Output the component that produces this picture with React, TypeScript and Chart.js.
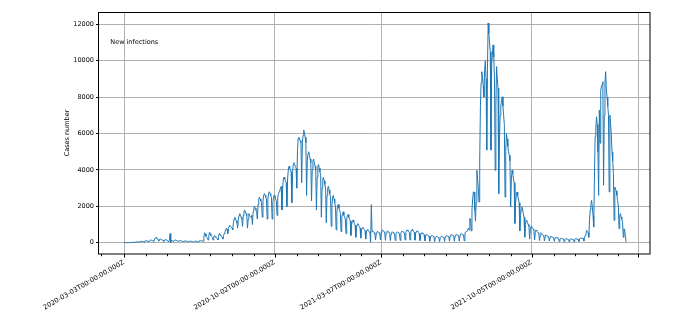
import React, { useEffect, useRef } from 'react';
import { Chart, registerables } from 'chart.js';
Chart.register(...registerables);

// Daily new infections, one row per week, starting 2020-03-03 (day index 0)
const wave2020Spring: number[][] = [
  [0, 2, 3, 5, 4, 6, 8],
  [3, 10, 15, 20, 18, 25, 22],
  [10, 30, 40, 50, 45, 40, 35],
  [20, 60, 70, 80, 75, 65, 60],
  [30, 90, 100, 110, 95, 85, 80],
  [50, 120, 150, 140, 130, 110, 100],
  [80, 200, 260, 290, 240, 200, 180],
  [90, 170, 200, 190, 160, 150, 140],
  [70, 150, 170, 160, 140, 120, 110],
  [40, 110, 500, 10, 130, 110, 100],
  [60, 130, 150, 140, 120, 110, 100],
  [50, 110, 120, 110, 100, 90, 80],
  [40, 90, 100, 95, 85, 80, 70],
  [30, 80, 90, 85, 75, 70, 65],
  [30, 70, 80, 90, 80, 75, 70],
  [40, 90, 110, 120, 100, 95, 90],
  [80, 300, 550, 480, 350, 300, 250],
  [150, 350, 580, 500, 400, 350, 300],
  [150, 300, 400, 350, 300, 250, 220],
  [150, 350, 520, 450, 400, 350, 300],
];

const wave2020Autumn: number[][] = [
  [200, 400, 500, 600, 700, 800, 750],
  [500, 800, 900, 950, 900, 850, 800],
  [700, 1100, 1300, 1400, 1300, 1200, 1100],
  [800, 1300, 1500, 1600, 1500, 1400, 1300],
  [900, 1500, 1700, 1800, 1700, 1600, 1500],
  [800, 1300, 1600, 1500, 1450, 1400, 1500],
  [1000, 1700, 1900, 2000, 1900, 1800, 1700],
  [1300, 2100, 2400, 2500, 2400, 2300, 2200],
  [1400, 2300, 2600, 2700, 2600, 2500, 2400],
  [1300, 2400, 2700, 2800, 2700, 2600, 2500],
  [1300, 2200, 2500, 2600, 2500, 2400, 2300],
  [1500, 2500, 2700, 2800, 2900, 3000, 3100],
  [1800, 3000, 3500, 3600, 3500, 3400, 3300],
  [2000, 3500, 4000, 4200, 4100, 4000, 3900],
  [2200, 3800, 4300, 4400, 4300, 4200, 4100],
  [3000, 5000, 5700, 5800, 5700, 5600, 5500],
  [3300, 5500, 5900, 6190, 6000, 5800, 5500],
  [2600, 4500, 4900, 5000, 4800, 4600, 4400],
  [2300, 4000, 4500, 4600, 4400, 4200, 4000],
  [1800, 3600, 4200, 4300, 4100, 3900, 3700],
  [1400, 3000, 3500, 3600, 3400, 3200, 3000],
  [1100, 2600, 3000, 3100, 2900, 2700, 2500],
  [900, 2100, 2500, 2600, 2400, 2200, 2000],
  [700, 1700, 2000, 2100, 1900, 1800, 1600],
  [600, 1400, 1600, 1700, 1500, 1400, 1300],
  [500, 1300, 1500, 1550, 1400, 1300, 1200],
  [400, 1000, 1200, 1250, 1150, 1050, 950],
  [300, 850, 1000, 1050, 950, 900, 800],
  [250, 700, 800, 850, 780, 720, 650],
  [200, 600, 700, 720, 650, 600, 550],
];

const lull2021: number[][] = [
  [30, 2090, 600, 650, 600, 550, 500],
  [150, 500, 600, 620, 580, 550, 500],
  [150, 550, 680, 700, 650, 600, 550],
  [130, 500, 620, 650, 600, 560, 520],
  [120, 480, 580, 600, 560, 520, 480],
  [120, 470, 570, 600, 560, 520, 480],
  [130, 500, 620, 650, 600, 570, 530],
  [150, 550, 680, 700, 650, 600, 560],
  [150, 550, 680, 720, 660, 620, 580],
  [140, 500, 620, 650, 600, 560, 520],
  [120, 430, 520, 550, 500, 470, 440],
  [100, 350, 430, 450, 420, 390, 360],
  [80, 300, 380, 400, 370, 340, 310],
  [60, 280, 340, 350, 330, 300, 280],
  [60, 280, 340, 360, 330, 310, 290],
  [70, 320, 380, 400, 370, 350, 330],
  [80, 360, 430, 450, 420, 400, 380],
  [80, 370, 440, 460, 430, 410, 390],
  [90, 400, 480, 500, 470, 450, 430],
  [100, 500, 600, 620, 650, 700, 800],
];

const wave2021Summer: number[][] = [
  [700, 1340, 1300, 650, 1800, 2400, 2790],
  [2790, 1800, 1200, 2200, 3980, 3500, 3000],
  [2240, 4500, 7500, 8800, 9400, 9100, 8600],
  [8000, 9500, 10000, 9000, 5090, 9500, 12070],
  [11500, 10980, 10500, 5090, 9870, 10300, 10870],
  [10200, 9000, 3980, 7500, 9680, 9000, 8500],
  [2700, 5500, 7000, 7500, 7800, 8020, 7500],
  [7000, 6500, 2510, 5000, 6000, 5700, 5300],
  [5000, 4800, 4500, 1960, 3500, 3980, 3800],
  [3500, 3300, 1060, 2200, 2600, 2790, 2600],
  [2400, 2200, 650, 1500, 1800, 1960, 1800],
  [1600, 1400, 300, 1000, 1230, 1200, 1100],
];

const lateLull2021: number[][] = [
  [1000, 900, 200, 700, 900, 850, 800],
  [750, 700, 150, 550, 700, 650, 600],
  [550, 500, 120, 400, 550, 500, 450],
  [420, 400, 100, 330, 430, 400, 370],
  [350, 330, 90, 280, 360, 340, 310],
  [300, 280, 80, 240, 300, 290, 270],
  [250, 240, 70, 200, 250, 240, 220],
  [210, 200, 60, 170, 220, 210, 200],
  [190, 180, 60, 160, 210, 200, 190],
  [190, 180, 60, 170, 220, 210, 200],
  [200, 190, 70, 200, 260, 250, 240],
  [250, 240, 90, 300, 400, 500, 680],
];

const wave2022Winter: number[][] = [
  [600, 550, 300, 1200, 1800, 2100, 2330],
  [2000, 1500, 860, 3500, 5820, 6300, 6920],
  [6500, 5000, 2600, 7290, 5470, 8390, 8600],
  [8700, 8850, 3160, 7000, 8800, 9400, 8400],
  [8000, 7500, 7000, 2790, 7010, 6500, 6000],
  [5000, 4500, 3800, 1230, 3060, 2950, 2840],
  [2600, 2300, 2000, 770, 1500, 1600, 1400],
  [1300, 1100, 300, 770, 700, 400, 30],
];

// Axis ticks (day index from 2020-03-03)
const majorTickDays = [0, 214, 365, 579, 730];
const majorTickLabels = [
  '2020-03-03T00:00:00.000Z',
  '2020-10-02T00:00:00.000Z',
  '2021-03-07T00:00:00.000Z',
  '2021-10-05T00:00:00.000Z',
  '',
];
const minorTickDays = [-33, 31, 61, 92, 122, 153, 184, 245, 275, 306, 337, 396, 426, 457, 487, 518, 549, 610, 640, 671, 702];
const yTickValues = [0, 2000, 4000, 6000, 8000, 10000, 12000];

const FONT = 'DejaVu Sans';

export default function App() {
  const ref = useRef<HTMLCanvasElement>(null);
  useEffect(() => {
    if (!ref.current) return;
    const daily = [
      ...wave2020Spring,
      ...wave2020Autumn,
      ...lull2021,
      ...wave2021Summer,
      ...lateLull2021,
      ...wave2022Winter,
    ].flat();
    const points = daily.map((v, i) => ({ x: i, y: v }));
    const allX = [...minorTickDays, ...majorTickDays].sort((a, b) => a - b);

    const framePlugin = {
      id: 'frame',
      afterDraw(chart: any) {
        const { ctx, chartArea } = chart;
        const xs = chart.scales.x;
        ctx.save();
        // spines
        ctx.strokeStyle = '#000';
        ctx.lineWidth = 1;
        ctx.strokeRect(chartArea.left - 0.5, chartArea.top + 0.5, chartArea.right - chartArea.left + 0.5, chartArea.bottom - chartArea.top - 0.5);
        // x ticks
        const yb = chartArea.bottom;
        ctx.beginPath();
        for (const d of allX) {
          const px = Math.round(xs.getPixelForValue(d)) + 0.5;
          const len = majorTickDays.includes(d) ? 3.5 : 2.2;
          ctx.moveTo(px, yb);
          ctx.lineTo(px, yb + len);
        }
        ctx.stroke();
        // x labels
        ctx.fillStyle = '#000';
        ctx.font = `6.7px "${FONT}"`;
        ctx.textAlign = 'right';
        ctx.textBaseline = 'alphabetic';
        majorTickDays.forEach((d, i) => {
          const lbl = majorTickLabels[i];
          if (!lbl) return;
          const px = xs.getPixelForValue(d);
          ctx.save();
          ctx.translate(px + 0.5, yb + 9.5);
          ctx.rotate(-Math.PI / 6);
          ctx.fillText(lbl, 0, 0);
          ctx.restore();
        });
        // annotation
        ctx.font = `6.5px "${FONT}"`;
        ctx.textBaseline = 'middle';
        ctx.textAlign = 'left';
        ctx.fillText('New infections', chartArea.left + 11.3, chartArea.top + 30.5);
        ctx.restore();
      },
    };

    const chart = new Chart(ref.current, {
      type: 'line',
      data: {
        datasets: [
          {
            data: points,
            borderColor: '#1f77b4',
            borderWidth: 1,
            pointRadius: 0,
            tension: 0,
            fill: false,
          },
        ],
      },
      options: {
        responsive: false,
        animation: false,
        devicePixelRatio: 1,
        layout: { padding: { left: 63, top: 12, right: 41, bottom: 0 } },
        plugins: { legend: { display: false }, tooltip: { enabled: false } },
        scales: {
          x: {
            type: 'linear',
            min: -36,
            max: 747,
            afterBuildTicks: (s: any) => {
              s.ticks = allX.map((v) => ({ value: v }));
            },
            afterFit: (s: any) => {
              s.height = 61;
            },
            ticks: { display: false, autoSkip: false },
            grid: {
              color: (c: any) => (c.tick && majorTickDays.includes(c.tick.value) ? '#b0b0b0' : 'rgba(0,0,0,0)'),
              drawTicks: false,
              lineWidth: 1,
            },
            border: { display: false },
          },
          y: {
            type: 'linear',
            min: -620,
            max: 12680,
            afterBuildTicks: (s: any) => {
              s.ticks = yTickValues.map((v) => ({ value: v }));
            },
            afterFit: (s: any) => {
              s.width = 36;
            },
            title: {
              display: true,
              text: 'Cases number',
              color: '#000',
              font: { family: FONT, size: 6.5 },
              padding: 0,
            },
            ticks: {
              padding: 2,
              color: '#000',
              font: { family: FONT, size: 6.5 },
              callback: (v: any) => String(v),
            },
            grid: {
              color: '#b0b0b0',
              tickColor: '#000',
              tickLength: 3,
              lineWidth: 1,
            },
            border: { display: false },
          },
        },
      },
      plugins: [framePlugin],
    });
    return () => chart.destroy();
  }, []);
  return (
    <div style={{ position: 'absolute', left: 0, top: 0, width: 691, height: 315, background: '#fff' }}>
      <canvas ref={ref} width={691} height={315} style={{ display: 'block', width: 691, height: 315 }} />
    </div>
  );
}
